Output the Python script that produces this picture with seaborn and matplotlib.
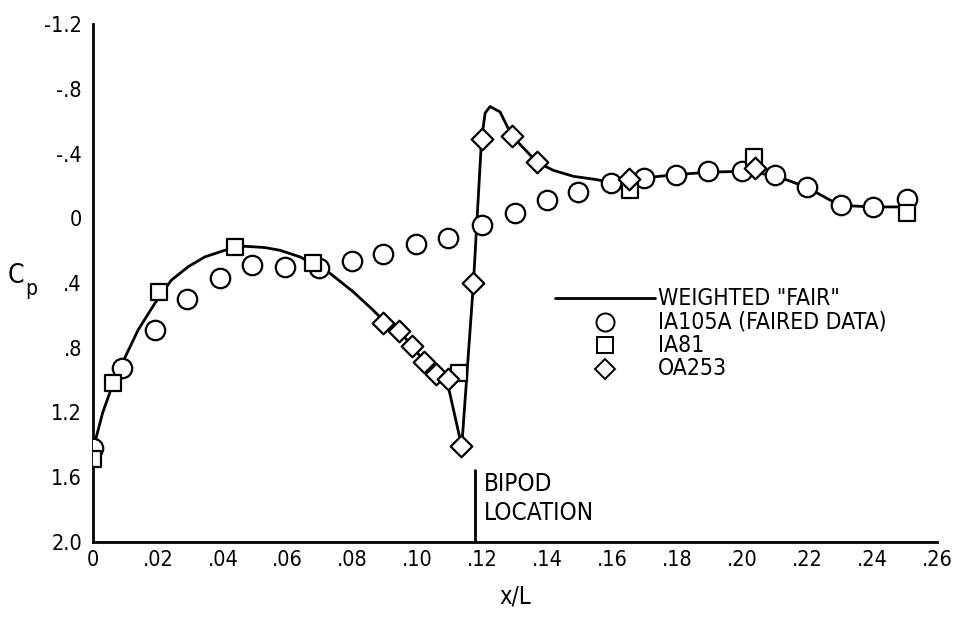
import matplotlib
matplotlib.use("Agg")
import matplotlib.pyplot as plt
import seaborn as sns
import pandas as pd
from matplotlib import font_manager as fm
from matplotlib.font_manager import FontProperties

# ---- data ----
fair_x = [0.0, 0.0005, 0.003, 0.0062, 0.0092, 0.0139, 0.019, 0.0241, 0.0293, 0.0344,
          0.0406, 0.0467, 0.0529, 0.0576, 0.0638, 0.073, 0.0802, 0.0863, 0.0894, 0.0944,
          0.0984, 0.102, 0.1057, 0.109, 0.1136, 0.1172, 0.1197, 0.1208, 0.1223, 0.1254,
          0.129, 0.1367, 0.1418, 0.148, 0.155, 0.160, 0.165, 0.170, 0.180, 0.190,
          0.200, 0.210, 0.220, 0.230, 0.240, 0.250]
fair_y = [1.45, 1.39, 1.20, 1.02, 0.887, 0.69, 0.527, 0.383, 0.30, 0.239,
          0.198, 0.173, 0.181, 0.198, 0.239, 0.34, 0.455, 0.568, 0.63, 0.70,
          0.79, 0.885, 0.955, 1.0, 1.41, 0.40, -0.49, -0.65, -0.69, -0.657,
          -0.51, -0.348, -0.296, -0.259, -0.239, -0.22, -0.24, -0.25, -0.27, -0.285,
          -0.29, -0.265, -0.19, -0.08, -0.07, -0.07]

ia105a_x = [0.0, 0.009, 0.019, 0.029, 0.039, 0.049, 0.059, 0.0697, 0.0797, 0.0894, 0.0995,
            0.1095, 0.1197, 0.130, 0.1398, 0.1495, 0.1596, 0.1697, 0.1796, 0.1896, 0.1998,
            0.210, 0.220, 0.2303, 0.2404, 0.2507]
ia105a_y = [1.42, 0.925, 0.69, 0.50, 0.37, 0.29, 0.30, 0.31, 0.266, 0.218, 0.16,
            0.12, 0.04, -0.03, -0.11, -0.16, -0.22, -0.25, -0.27, -0.29, -0.29,
            -0.265, -0.19, -0.08, -0.07, -0.12]

ia81_x = [0.0, 0.0063, 0.0204, 0.0437, 0.0679, 0.1128, 0.1654, 0.2037, 0.2507]
ia81_y = [1.49, 1.015, 0.455, 0.18, 0.276, 0.955, -0.173, -0.38, -0.035]

oa253_x = [0.0892, 0.0944, 0.0984, 0.102, 0.1057, 0.1095, 0.1134, 0.1172, 0.1197,
           0.129, 0.1367, 0.1652, 0.204]
oa253_y = [0.645, 0.696, 0.79, 0.89, 0.965, 0.996, 1.41, 0.40, -0.49,
           -0.51, -0.35, -0.245, -0.31]

x_ticks = [0, 0.02, 0.04, 0.06, 0.08, 0.10, 0.12, 0.14, 0.16, 0.18, 0.20, 0.22, 0.24, 0.26]
x_tick_labels = ["0", ".02", ".04", ".06", ".08", ".10", ".12", ".14", ".16", ".18",
                 ".20", ".22", ".24", ".26"]
y_ticks = [-1.2, -0.8, -0.4, 0, 0.4, 0.8, 1.2, 1.6, 2.0]
y_tick_labels = ["-1.2", "-.8", "-.4", "0", ".4", ".8", "1.2", "1.6", "2.0"]

legend_labels = ['WEIGHTED "FAIR"', "IA105A (FAIRED DATA)", "IA81", "OA253"]
bipod_x = 0.1177

sns.set_theme(style="white")


def pick_condensed():
    prefs = ["LiberationSansNarrow-Regular", "DejaVuSansCondensed.ttf",
             "RobotoCondensed-Regular", "OpenSans_Condensed-Regular", "OpenSansCondensed",
             "NotoSans-Condensed.ttf", "NotoSansCondensed-Regular"]
    files = [f.fname for f in fm.fontManager.ttflist]
    for p in prefs:
        for f in files:
            if p.lower() in f.lower():
                return f
    for f in fm.fontManager.ttflist:
        name = f.fname.lower()
        if (("condensed" in name or "narrow" in name) and "bold" not in name
                and "oblique" not in name and "italic" not in name and "semi" not in name
                and "light" not in name and "mono" not in name and "extra" not in name):
            return f.fname
    return None


cfile = pick_condensed()


def fp(size):
    if cfile:
        return FontProperties(fname=cfile, size=size)
    return FontProperties(family="DejaVu Sans", size=size)


fig = plt.figure(figsize=(9.57, 6.17), dpi=100)
ax = fig.add_axes([93 / 957, 1 - 542 / 617, 844 / 957, 518 / 617])

fair = pd.DataFrame({"x": fair_x, "y": fair_y})
sns.lineplot(data=fair, x="x", y="y", sort=False, color="black", lw=2.0, ax=ax, zorder=2)

mk = dict(facecolor="white", edgecolor="black", linewidth=1.6, zorder=3)
sns.scatterplot(x=ia105a_x, y=ia105a_y, marker="o", s=14 ** 2, ax=ax, **mk)
sns.scatterplot(x=ia81_x, y=ia81_y, marker="s", s=12 ** 2, ax=ax, **mk)
sns.scatterplot(x=oa253_x, y=oa253_y, marker="D", s=11 ** 2, ax=ax, **mk)

ax.set_xlim(0, 0.26)
ax.set_ylim(2.0, -1.2)
ax.set_xticks(x_ticks)
ax.set_xticklabels(x_tick_labels)
ax.set_yticks(y_ticks)
ax.set_yticklabels(y_tick_labels)
ax.tick_params(direction="in", length=11, width=1.5, colors="black")
ax.tick_params(axis="y", pad=8)
ax.tick_params(axis="x", pad=6)
for lab in ax.get_xticklabels() + ax.get_yticklabels():
    lab.set_fontproperties(fp(15.5))
for s in ["top", "right"]:
    ax.spines[s].set_visible(False)
for s in ["left", "bottom"]:
    ax.spines[s].set_color("black")
    ax.spines[s].set_linewidth(2.0)
ax.set_xlabel("x/L", fontproperties=fp(17), color="black", labelpad=10)
ax.set_ylabel("")
fig.text(8 / 957, 1 - 283 / 617, "C", fontproperties=fp(19), color="black",
         va="baseline", ha="left")
fig.text(25 / 957, 1 - 295 / 617, "p", fontproperties=fp(15), color="black",
         va="baseline", ha="left")

# bipod location
ax.vlines(bipod_x, 1.55, 2.0, color="black", lw=2.0)
ax.text(bipod_x + 0.0026, 1.565, "BIPOD\nLOCATION", fontproperties=fp(17.5), va="top",
        ha="left", color="black", linespacing=1.3)

# legend (drawn in axes fraction coordinates)
T = ax.transAxes
row_y = [0.471, 0.4247, 0.3803, 0.334]
ax.plot([0.5474, 0.6659], [row_y[0], row_y[0]], transform=T, color="black", lw=2.0)
leg_mk = [("o", 13), ("s", 11), ("D", 10)]
for (m, ms), yy in zip(leg_mk, row_y[1:]):
    ax.plot([0.6067], [yy], transform=T, ls="", marker=m, ms=ms, mfc="white",
            mec="black", mew=1.4)
for lab, yy in zip(legend_labels, row_y):
    ax.text(0.6694, yy, lab, transform=T, fontproperties=fp(16.5), va="center",
            ha="left", color="black")

fig.savefig("out.png", dpi=100)
